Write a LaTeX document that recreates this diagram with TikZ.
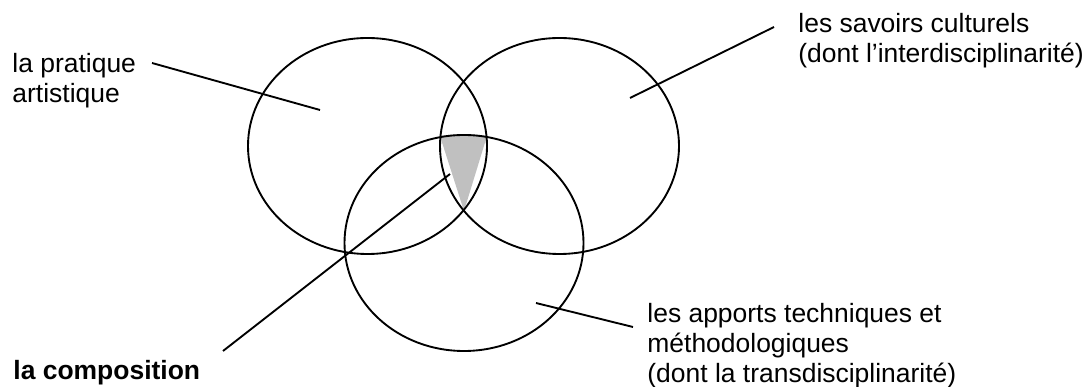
\documentclass[tikz,border=0pt]{standalone}
\usepackage{fontspec}
\setmainfont{Liberation Sans}
\usepackage{xcolor}
\usepackage{tikz}

\definecolor{silver}{RGB}{192,192,192}

\begin{document}
\begin{tikzpicture}[
    x=0.48pt, y=-0.48pt,
    every node/.style={font=\fontsize{12.7}{14.6}\selectfont,inner sep=0pt},
    lbl/.style={align=left,anchor=base west},
    ring/.style={line width=0.9pt,black},
    lead/.style={line width=0.9pt,black},
  ]
  \useasboundingbox (0,0) rectangle (1089,387);
  \def\rx{119.5}
  \def\ry{108}

  % -- the common part of the three fields --
  \fill[silver] (440,136) to[bend left=8] (487,136) -- (464,211) -- cycle;

  % -- the three fields --
  \coordinate (art) at (367.5,146);
  \coordinate (cul) at (559.5,146);
  \coordinate (tec) at (464,243);
  \foreach \c in {art,cul,tec}{%
    \draw[ring] (\c) ellipse [x radius=\rx, y radius=\ry];}

  % -- the labels (placed at the baseline of their last line) --
  \node[lbl] (prat) at (12,103) {la pratique\\artistique};
  \node[lbl] (sav)  at (798,63) {les savoirs culturels\\(dont l’interdisciplinarité)};
  \node[lbl] (app)  at (647,383)
       {les apports techniques et\\méthodologiques\\(dont la transdisciplinarité)};
  \node[lbl,font=\fontsize{12.7}{14.6}\selectfont\bfseries] (comp) at (13,380) {la composition};

  % -- the leader lines --
  \coordinate (prat-a) at (152,63);  \coordinate (prat-b) at (320,110);
  \coordinate (sav-a)  at (774,27);  \coordinate (sav-b)  at (630,98);
  \coordinate (app-a)  at (633,327); \coordinate (app-b)  at (536,303);
  \coordinate (comp-a) at (223,351); \coordinate (comp-b) at (450,174);
  \foreach \l in {prat,sav,app,comp}{%
    \draw[lead] (\l-a) -- (\l-b);}
\end{tikzpicture}
\end{document}
